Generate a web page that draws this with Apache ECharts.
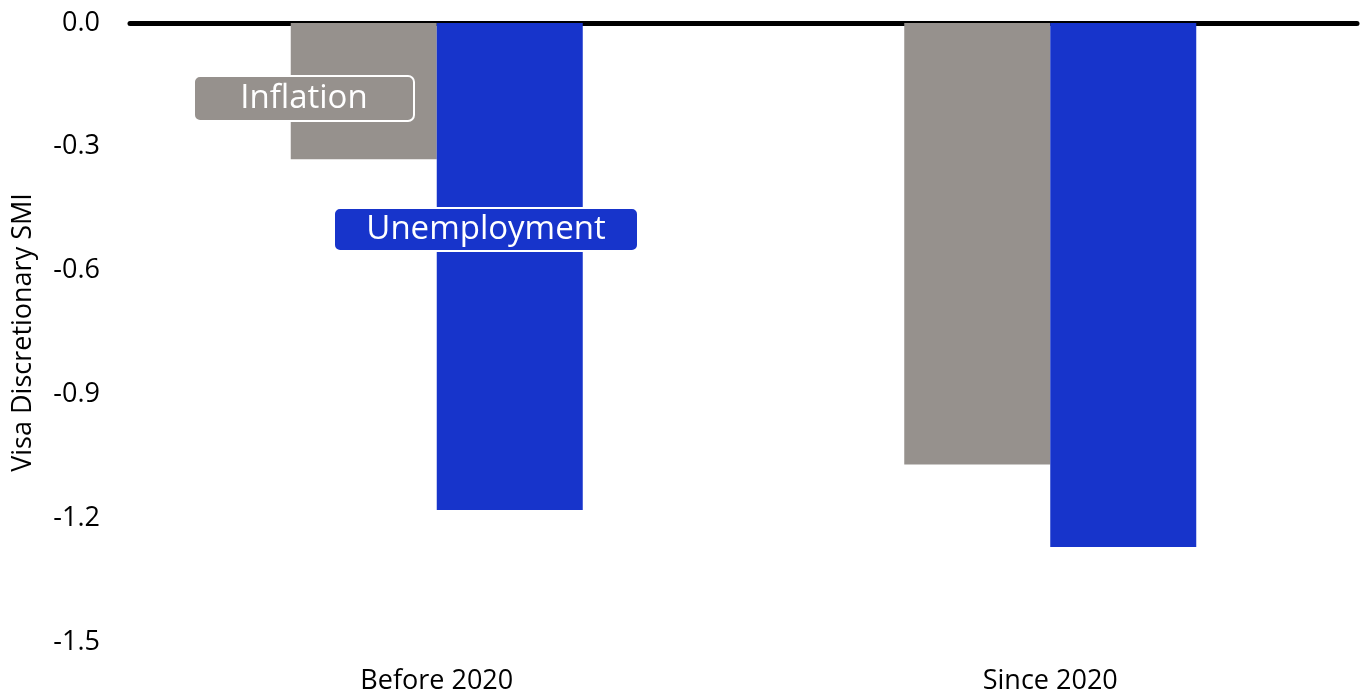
<!DOCTYPE html>
<html>
<head>
<meta charset="utf-8">
<script src="https://cdn.jsdelivr.net/npm/echarts@6/dist/echarts.min.js"></script>
<style>
html,body{margin:0;padding:0;background:#fff;}
#chart{width:1364px;height:694px;}
</style>
</head>
<body>
<div id="chart"></div>
<script>
const categories = ['Before 2020', 'Since 2020'];
const seriesNames = ['Inflation', 'Unemployment'];
const inflation = [-0.33, -1.07];
const unemployment = [-1.18, -1.27];
const yAxisName = 'Visa Discretionary SMI';

const GREY = '#96918d';
const BLUE = '#1734cb';
const FONT = '"Open Sans", "Noto Sans", sans-serif';

const chart = echarts.init(document.getElementById('chart'), null, {renderer: 'canvas'});

function labelBox(x, y, w, h, text, fill) {
  return {
    type: 'group',
    left: x, top: y, z: 100,
    children: [
      {type: 'rect', z: 100, shape: {x: 0, y: 0, width: w, height: h, r: 6},
       style: {fill: fill, stroke: '#ffffff', lineWidth: 2}},
      {type: 'text', z: 101, x: w / 2, y: h / 2,
       style: {text: text, fill: '#ffffff', font: '33px ' + FONT, align: 'center', verticalAlign: 'middle'}}
    ]
  };
}

chart.setOption({
  animation: false,
  backgroundColor: '#ffffff',
  grid: {left: 130, right: 7, top: 23, bottom: 52, containLabel: false, outerBoundsMode: 'none'},
  xAxis: [
    {
      type: 'category', data: categories, position: 'bottom',
      axisLine: {show: false}, axisTick: {show: false},
      axisLabel: {color: '#000', fontSize: 27, fontFamily: FONT, margin: 26}
    },
    {
      type: 'category', data: categories, position: 'top',
      axisLine: {show: true, onZero: false, lineStyle: {color: '#000', width: 5}},
      axisTick: {show: false}, axisLabel: {show: false}
    }
  ],
  yAxis: {
    type: 'value', min: -1.5, max: 0, interval: 0.3,
    name: yAxisName, nameLocation: 'middle', nameGap: 93, nameRotate: 90,
    nameTextStyle: {color: '#000', fontSize: 27, fontFamily: FONT},
    axisLine: {show: false}, axisTick: {show: false}, splitLine: {show: false},
    axisLabel: {color: '#000', fontSize: 27, fontFamily: FONT, margin: 30,
      formatter: v => (Math.abs(v) < 1e-9 ? 0 : v).toFixed(1)}
  },
  series: [
    {name: seriesNames[0], type: 'bar', data: inflation, barWidth: 146, barGap: '0%',
     itemStyle: {color: GREY}},
    {name: seriesNames[1], type: 'bar', data: unemployment, barWidth: 146, barGap: '0%',
     itemStyle: {color: BLUE}}
  ],
  graphic: [
    labelBox(193, 75, 220, 45, seriesNames[0], GREY),
    labelBox(333, 207, 304, 43, seriesNames[1], BLUE)
  ]
});
</script>
</body>
</html>
